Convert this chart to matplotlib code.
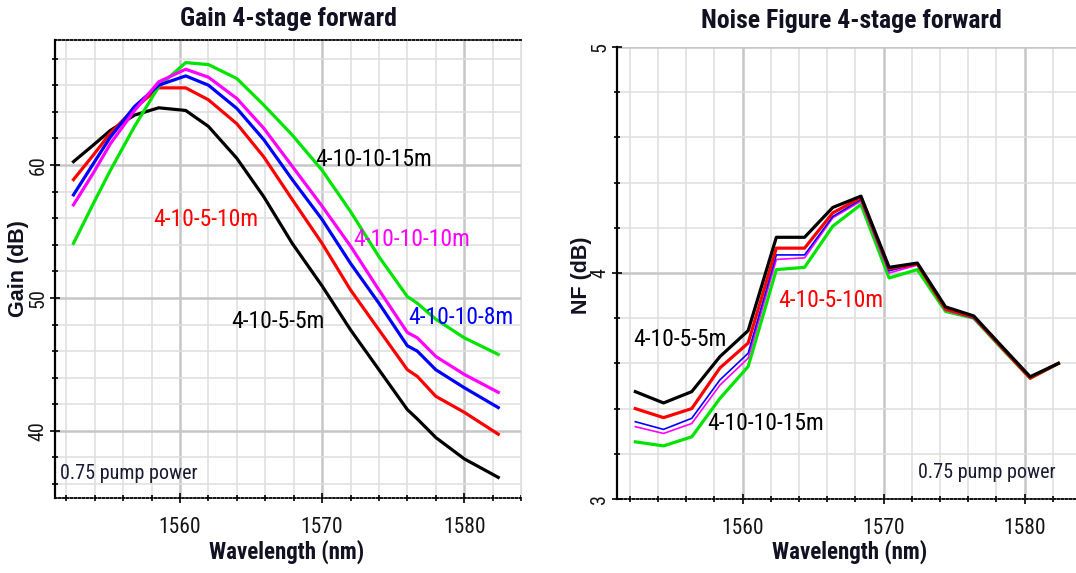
import matplotlib
matplotlib.use('Agg')
import matplotlib.pyplot as plt
from matplotlib import font_manager
from matplotlib.ticker import MultipleLocator

names = {f.name for f in font_manager.fontManager.ttflist}
NARROW = 'Liberation Sans'
NSCALE = 0.85
for cand in ['Liberation Sans Narrow', 'Roboto Condensed', 'DejaVu Sans Condensed',
             'Open Sans Condensed', 'Noto Sans Condensed']:
    if cand in names:
        NARROW = cand
        NSCALE = 1.0
        break
WIDE = 'Liberation Sans'

# ---------------- data ----------------
gain_wl = [1552.5, 1553.9, 1555.1, 1556.8, 1558.5, 1560.4, 1562.0, 1564.0, 1565.9,
           1567.9, 1570.0, 1572.0, 1574.0, 1576.0, 1576.7, 1578.0, 1580.0, 1582.4]
gain_5_5 = [60.25, 61.5, 62.6, 63.75, 64.3, 64.1, 62.9, 60.5, 57.6, 54.1, 50.9, 47.6,
            44.6, 41.6, 40.9, 39.5, 37.9, 36.5]
gain_5_10 = [58.9, 60.75, 62.4, 64.25, 65.8, 65.8, 64.9, 63.1, 60.6, 57.4, 54.1, 50.6,
             47.6, 44.6, 44.1, 42.6, 41.4, 39.75]
gain_10_8 = [57.75, 60.1, 62.1, 64.4, 66.0, 66.7, 66.0, 64.25, 61.9, 58.9, 55.9, 52.6,
             49.6, 46.4, 46.0, 44.6, 43.25, 41.75]
gain_10_10 = [57.0, 59.4, 61.6, 64.1, 66.25, 67.2, 66.6, 65.0, 62.75, 59.9, 56.9, 53.9,
              50.6, 47.4, 47.0, 45.6, 44.25, 42.9]
gain_10_15 = [54.1, 57.1, 59.6, 62.9, 65.9, 67.7, 67.55, 66.5, 64.5, 62.25, 59.6, 56.5,
              53.1, 50.1, 49.6, 48.4, 47.0, 45.75]

nf_wl = [1552.4, 1554.4, 1556.4, 1558.4, 1560.4, 1562.4, 1564.4, 1566.4, 1568.4,
         1570.4, 1572.4, 1574.4, 1576.4, 1578.4, 1580.4, 1582.4]
nf_5_5 = [3.475, 3.425, 3.475, 3.63, 3.745, 4.158, 4.158, 4.29, 4.34, 4.025, 4.044,
          3.85, 3.81, 3.675, 3.541, 3.60]
nf_5_10 = [3.40, 3.36, 3.40, 3.58, 3.69, 4.11, 4.11, 4.266, 4.333, 4.02, 4.04, 3.84,
           3.805, 3.67, 3.535, 3.60]
nf_10_8 = [3.342, 3.308, 3.357, 3.527, 3.645, 4.08, 4.08, 4.25, 4.325, 4.01, 4.04,
           3.84, 3.80, 3.67, 3.535, 3.60]
nf_10_10 = [3.32, 3.29, 3.334, 3.504, 3.623, 4.06, 4.067, 4.244, 4.318, 4.0, 4.035,
            3.835, 3.80, 3.665, 3.532, 3.60]
nf_10_15 = [3.253, 3.235, 3.275, 3.445, 3.586, 4.015, 4.025, 4.207, 4.303, 3.978,
            4.015, 3.83, 3.80, 3.665, 3.534, 3.60]

BLACK, RED, BLUE, MAG, GREEN = '#000000', '#ff0000', '#0000ff', '#ff00ff', '#00e400'
DOTS = (0, (1.0, 1.2))

W, H = 1076, 573
fig = plt.figure(figsize=(W / 100, H / 100), dpi=100)


def px_axes(l, t, r, b):
    return fig.add_axes([l / W, 1 - b / H, (r - l) / W, (b - t) / H])


def style(ax, minor_x, minor_y, major_y):
    ax.xaxis.set_major_locator(MultipleLocator(10))
    ax.xaxis.set_minor_locator(MultipleLocator(minor_x))
    ax.yaxis.set_major_locator(MultipleLocator(major_y))
    ax.yaxis.set_minor_locator(MultipleLocator(minor_y))
    ax.grid(which='minor', color='#e0e0e0', lw=1.2)
    ax.grid(which='major', color='#c6c6c6', lw=1.8)
    ax.set_axisbelow(True)
    ax.tick_params(which='both', direction='inout', color='black', width=1.2)
    ax.tick_params(which='major', length=7)
    ax.tick_params(which='minor', length=5)
    ax.tick_params(axis='x', which='major', pad=10, labelsize=15.5 * NSCALE)
    ax.tick_params(axis='y', which='major', pad=2, labelsize=14.5 * NSCALE)
    for lab in ax.get_xticklabels() + ax.get_yticklabels():
        lab.set_fontfamily(NARROW)
        lab.set_color('#151515')
    for lab in ax.get_yticklabels():
        lab.set_rotation(90)
        lab.set_va('center')
    ax.spines['left'].set_linewidth(1.6)
    ax.spines['bottom'].set_linestyle(DOTS)
    ax.spines['bottom'].set_linewidth(1.3)


# ---------------- Gain ----------------
ax1 = px_axes(55, 40, 521, 498)
ax1.set_xlim(1551.2, 1584.0)
ax1.set_ylim(34.95, 69.4)
lw = 2.3
ax1.plot(gain_wl, gain_5_5, color=BLACK, lw=lw)
ax1.plot(gain_wl, gain_5_10, color=RED, lw=lw)
ax1.plot(gain_wl, gain_10_15, color=GREEN, lw=lw)
ax1.plot(gain_wl, gain_10_8, color=BLUE, lw=lw)
ax1.plot(gain_wl, gain_10_10, color=MAG, lw=lw)
style(ax1, 2, 2, 10)
ax1.spines['top'].set_linestyle(DOTS)
ax1.spines['top'].set_linewidth(1.3)
ax1.spines['right'].set_color('#dedede')

fs = 17 * NSCALE
ax1.text(1573.6, 60.4, '4-10-10-15m', color=BLACK, fontsize=fs, family=NARROW, ha='center', va='center')
ax1.text(1561.8, 55.9, '4-10-5-10m', color=RED, fontsize=fs, family=NARROW, ha='center', va='center')
ax1.text(1576.3, 54.4, '4-10-10-10m', color=MAG, fontsize=fs, family=NARROW, ha='center', va='center')
ax1.text(1579.8, 48.55, '4-10-10-8m', color=BLUE, fontsize=fs, family=NARROW, ha='center', va='center')
ax1.text(1566.9, 48.25, '4-10-5-5m', color=BLACK, fontsize=fs, family=NARROW, ha='center', va='center')
ax1.text(1551.55, 36.8, '0.75 pump power', color='#1a1a33', fontsize=14.5 * NSCALE, family=NARROW,
         ha='left', va='center')

# ---------------- NF ----------------
ax2 = px_axes(617, 47, 1076, 499)
ax2.set_xlim(1551.1, 1583.65)
ax2.set_ylim(3, 5)
ax2.plot(nf_wl, nf_10_15, color=GREEN, lw=2.3)
ax2.plot(nf_wl, nf_10_10, color=MAG, lw=1.2)
ax2.plot(nf_wl, nf_10_8, color=BLUE, lw=1.2)
ax2.plot(nf_wl, nf_5_10, color=RED, lw=2.3)
ax2.plot(nf_wl, nf_5_5, color=BLACK, lw=2.3)
style(ax2, 2, 0.2, 1)
ax2.spines['top'].set_visible(False)
ax2.spines['right'].set_visible(False)

ax2.text(1555.55, 3.705, '4-10-5-5m', color=BLACK, fontsize=fs, family=NARROW, ha='center', va='center')
ax2.text(1566.26, 3.88, '4-10-5-10m', color=RED, fontsize=fs, family=NARROW, ha='center', va='center')
ax2.text(1561.65, 3.333, '4-10-10-15m', color=BLACK, fontsize=fs, family=NARROW, ha='center', va='center')
ax2.text(1582.2, 3.116, '0.75 pump power', color='#1a1a33', fontsize=14.5 * NSCALE, family=NARROW,
         ha='right', va='center')

# ---------------- titles & labels ----------------
fig.text(288 / W, 1 - 19 / H, 'Gain 4-stage forward', fontsize=18.5 * NSCALE, family=NARROW,
         weight='bold', ha='center', va='center', color='#111122')
fig.text(851 / W, 1 - 21 / H, 'Noise Figure 4-stage forward', fontsize=18.5 * NSCALE, family=NARROW,
         weight='bold', ha='center', va='center', color='#111122')
fig.text(287 / W, 1 - 552 / H, 'Wavelength (nm)', fontsize=16.5 * NSCALE, family=NARROW,
         weight='bold', ha='center', va='center', color='#111122')
fig.text(850 / W, 1 - 552 / H, 'Wavelength (nm)', fontsize=16.5 * NSCALE, family=NARROW,
         weight='bold', ha='center', va='center', color='#111122')
fig.text(19 / W, 1 - 269 / H, 'Gain (dB)', fontsize=15.5, family=WIDE, weight='bold',
         rotation=90, ha='center', va='center', color='#111122')
fig.text(581 / W, 1 - 275 / H, 'NF (dB)', fontsize=15.5, family=WIDE, weight='bold',
         rotation=90, ha='center', va='center', color='#111122')

fig.savefig('out.png', dpi=100)
